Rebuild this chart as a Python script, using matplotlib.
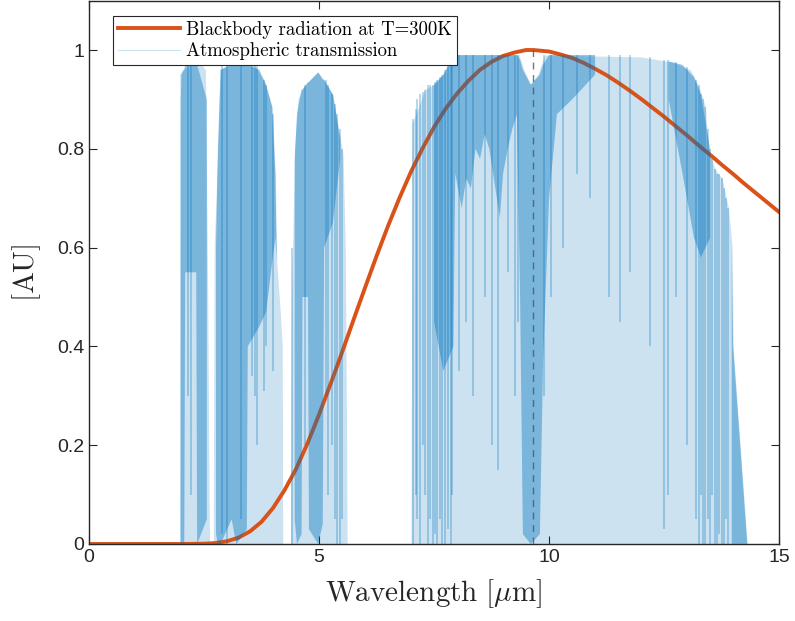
# -*- coding: utf-8 -*-
import numpy as np
import matplotlib
matplotlib.use('Agg')
import matplotlib.pyplot as plt
from matplotlib.ticker import FuncFormatter

plt.rcParams['mathtext.fontset'] = 'cm'

# blackbody curve, normalised
bb_wl = [0, 2.0, 2.5, 2.75, 3.0, 3.25, 3.5, 3.75, 4.0, 4.25, 4.5, 4.75, 5.0, 5.25, 5.5,
         5.75, 6.0, 6.25, 6.5, 6.75, 7.0, 7.25, 7.5, 7.75, 8.0, 8.25, 8.5, 8.75, 9.0,
         9.25, 9.5, 9.66, 10.0, 10.25, 10.5, 10.75, 11.0, 11.25, 11.5, 11.75, 12.0,
         12.25, 12.5, 12.75, 13.0, 13.25, 13.5, 13.75, 14.0, 14.25, 14.5, 14.75, 15.0]
bb_val = [0, 0.0, 0.0006, 0.002, 0.0056, 0.0128, 0.0256, 0.045, 0.073, 0.109, 0.152,
          0.204, 0.262, 0.324, 0.388, 0.454, 0.519, 0.583, 0.644, 0.701, 0.754, 0.801,
          0.844, 0.881, 0.912, 0.938, 0.960, 0.976, 0.988, 0.995, 1.0, 1.0, 0.997,
          0.991, 0.984, 0.974, 0.962, 0.949, 0.934, 0.918, 0.901, 0.883, 0.865, 0.846,
          0.827, 0.807, 0.788, 0.768, 0.749, 0.729, 0.710, 0.691, 0.672]
peak_wl = 9.66

# atmospheric transmission: upper envelope of the windows
tr_wl = [0, 1.97, 1.98, 2.02, 2.2, 2.45, 2.53, 2.58, 2.61, 2.62,
         2.70, 2.72, 2.80, 2.85, 3.0, 3.6, 3.83, 3.98, 4.05, 4.08, 4.15, 4.20, 4.21,
         4.38, 4.40, 4.47, 4.54, 4.63, 4.8, 4.98, 5.1, 5.3, 5.46, 5.52, 5.57, 5.60, 5.61,
         7.00, 7.02, 7.3, 7.5, 7.7, 7.95, 9.35, 9.45, 9.6, 9.75, 9.9, 12.0, 12.7,
         13.07, 13.24, 13.4, 13.46, 13.6, 13.76, 13.9, 13.98, 14.0, 14.3, 14.32, 15.0]
tr_max = [0, 0, 0.90, 0.96, 0.97, 0.97, 0.96, 0.5, 0.1, 0,
          0, 0.6, 0.8, 0.96, 0.97, 0.97, 0.93, 0.885, 0.75, 0.57, 0.48, 0.4, 0,
          0, 0.5, 0.8, 0.9, 0.92, 0.94, 0.955, 0.94, 0.91, 0.82, 0.79, 0.6, 0.2, 0,
          0, 0.85, 0.92, 0.93, 0.95, 0.99, 0.99, 0.96, 0.93, 0.95, 0.99, 0.986, 0.975,
          0.96, 0.93, 0.885, 0.80, 0.76, 0.74, 0.68, 0.6, 0.4, 0.01, 0, 0]

# where the absorption lines are packed densely (nan = break)
nan = np.nan
dense_wl = [1.99, 2.07, 2.09, 2.33, 2.35, 2.56, nan,
            2.76, 2.80, 2.86, 3.1, 3.2, 3.43, 3.45, 3.7, 3.85, 3.98, 4.05, 4.08, nan,
            4.47, 4.52, 4.62, 4.64, 4.76, 4.78, 4.98, 5.08, 5.11, 5.3, 5.46, nan,
            7.5, 7.7, 7.92, 7.96, 8.1, 8.2, 8.3, 8.4, 8.5, 8.6, 8.7, 8.8, 8.93, 9.0,
            9.1, 9.2, 9.30, 9.37, 9.43, 9.6, 9.8, 9.87, 10.0, 10.17, 10.5, 11.0, nan,
            12.6, 12.9, 13.15, 13.3, 13.5, nan,
            13.97, 14.0, 14.3]
dense_lo = [0, 0, 0.55, 0.55, 0, 0.05, nan,
            0.02, 0, 0, 0.05, 0, 0.03, 0.4, 0.44, 0.47, 0.57, 0.62, 0.57, nan,
            0.05, 0, 0.02, 0.5, 0.5, 0.03, 0, 0.04, 0.6, 0.65, 0.78, nan,
            0.45, 0.35, 0.4, 0.75, 0.68, 0.74, 0.72, 0.8, 0.78, 0.83, 0.80, 0.74, 0.66,
            0.75, 0.8, 0.84, 0.87, 0.5, 0.02, 0.0, 0.02, 0.37, 0.7, 0.87, 0.9, 0.95, nan,
            0.9, 0.75, 0.62, 0.58, 0.62, nan,
            0, 0, 0]
dense_hi = [0.95, 0.96, 0.97, 0.97, 0.97, 0.9, nan,
            0.6, 0.8, 0.96, 0.97, 0.97, 0.97, 0.97, 0.96, 0.93, 0.885, 0.75, 0.57, nan,
            0.78, 0.87, 0.92, 0.92, 0.935, 0.935, 0.955, 0.94, 0.94, 0.91, 0.82, nan,
            0.93, 0.95, 0.99, 0.99, 0.99, 0.99, 0.99, 0.99, 0.99, 0.99, 0.99, 0.99, 0.99,
            0.99, 0.99, 0.99, 0.99, 0.98, 0.96, 0.93, 0.95, 0.97, 0.99, 0.99, 0.99, 0.99, nan,
            0.977, 0.97, 0.945, 0.91, 0.80, nan,
            0.6, 0.4, 0.01]

# single visible absorption lines
spike_wl = [2.15, 2.22, 2.9, 3.0, 3.3, 3.55, 3.6, 3.65, 3.8, 3.85, 4.0, 4.42, 4.7,
            5.15, 5.2, 5.28, 5.35, 5.4, 5.45, 5.5,
            7.04, 7.1, 7.13, 7.2, 7.25, 7.3, 7.37, 7.42, 7.47, 7.52, 7.57, 7.62, 7.68,
            7.74, 7.8, 7.86, 7.9,
            8.05, 8.2, 8.35, 8.6, 8.75, 8.9, 9.1, 9.25, 9.33, 9.9, 10.05,
            10.3, 10.6, 10.9, 11.3, 11.55, 11.76, 12.2, 12.5, 12.58, 12.75, 13.0,
            13.2, 13.25, 13.3, 13.35, 13.4, 13.45, 13.5, 13.55, 13.6, 13.65, 13.7,
            13.75, 13.8, 13.85, 13.9]
spike_hi = [0.97, 0.97, 0.97, 0.97, 0.97, 0.97, 0.97, 0.97, 0.94, 0.93, 0.87, 0.6, 0.93,
            0.94, 0.93, 0.91, 0.89, 0.87, 0.84, 0.8,
            0.86, 0.88, 0.9, 0.91, 0.915, 0.92, 0.93, 0.93, 0.93, 0.935, 0.94, 0.945, 0.95,
            0.96, 0.97, 0.98, 0.985,
            0.99, 0.99, 0.99, 0.99, 0.99, 0.99, 0.99, 0.99, 0.99, 0.99, 0.99,
            0.99, 0.99, 0.99, 0.99, 0.99, 0.99, 0.985, 0.98, 0.98, 0.975, 0.965,
            0.94, 0.93, 0.91, 0.9, 0.885, 0.84, 0.8, 0.78, 0.76, 0.75, 0.75,
            0.74, 0.72, 0.7, 0.68]
spike_lo = [0.3, 0.1, 0.02, 0.0, 0.05, 0.34, 0.3, 0.2, 0.31, 0.4, 0.35, 0.0, 0.2,
            0.3, 0.1, 0.2, 0.05, 0.0, 0.0, 0.05,
            0.0, 0.1, 0.05, 0.0, 0.2, 0.1, 0.0, 0.05, 0.0, 0.02, 0.0, 0.05, 0.0,
            0.0, 0.03, 0.0, 0.1,
            0.35, 0.45, 0.3, 0.5, 0.2, 0.15, 0.55, 0.3, 0.45, 0.3, 0.5,
            0.6, 0.75, 0.7, 0.5, 0.45, 0.55, 0.4, 0.03, 0.1, 0.5, 0.2,
            0.05, 0.0, 0.1, 0.0, 0.0, 0.05, 0.0, 0.1, 0.0, 0.0, 0.02,
            0.0, 0.0, 0.05, 0.0]

line_blue = '#0072BD'
area_blue = '#cce2f1'
orange = '#D95319'

fig = plt.figure(figsize=(7.95, 6.21), dpi=100)
ax = fig.add_axes([0.112, 0.124, 0.868, 0.875])

ax.fill_between(tr_wl, 0, tr_max, color=area_blue, lw=0, zorder=1)
ax.plot(bb_wl, bb_val, color=orange, lw=2.8, zorder=2,
        label='Blackbody radiation at T=300K')
ax.fill_between(dense_wl, dense_lo, dense_hi, color=line_blue, alpha=0.4, lw=0, zorder=3)
ax.vlines(spike_wl, spike_lo, spike_hi, color=line_blue, alpha=0.3, lw=1.3, zorder=3)
ax.plot([], [], color=area_blue, lw=0.8, label='Atmospheric transmission')
ax.plot([peak_wl, peak_wl], [0, 1], color='#555555', lw=1.0, ls=(0, (5, 4)),
        alpha=0.8, zorder=4)

ax.set_xlim(0, 15)
ax.set_ylim(0, 1.1)
ax.set_xticks([0, 5, 10, 15])
ax.set_yticks([0, 0.2, 0.4, 0.6, 0.8, 1.0])
ax.yaxis.set_major_formatter(FuncFormatter(lambda v, p: '%g' % v))
ax.tick_params(direction='in', length=6, width=0.8, top=True, right=True,
               labelsize=14, colors='#262626', labelcolor='#262626')
for lab in ax.get_xticklabels() + ax.get_yticklabels():
    lab.set_fontfamily('Liberation Sans')
for s in ax.spines.values():
    s.set_linewidth(1.0)
    s.set_color('#262626')

ax.set_xlabel(r'$\mathrm{Wavelength}\ [\mu\mathrm{m}]$', fontsize=21, color='#262626',
              labelpad=8)
ax.set_ylabel(r'$[\mathrm{AU}]$', fontsize=21, color='#262626', labelpad=10)

leg = ax.legend(loc='upper left', bbox_to_anchor=(0.035, 0.972), fancybox=False,
                framealpha=1, edgecolor='#262626', handlelength=3.3, handletextpad=0.35,
                borderpad=0.25, labelspacing=0.2, borderaxespad=0,
                prop={'family': 'cmr10', 'size': 13.5})
leg.get_frame().set_linewidth(0.8)
leg.set_zorder(10)

plt.savefig('out.png', dpi=100)
